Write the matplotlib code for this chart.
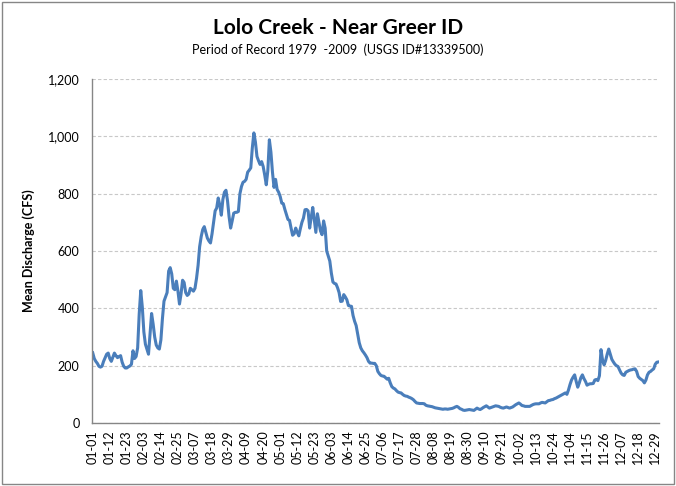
import numpy as np
import matplotlib
matplotlib.use('Agg')
import matplotlib.pyplot as plt
from matplotlib.patches import Rectangle
from matplotlib.ticker import FuncFormatter

# ------------------------------------------------------------------
# DATA  (mean daily discharge, CFS; leap year)
# ------------------------------------------------------------------
jan_mar = [245, 225, 215, 208, 198, 195, 198, 215, 228, 240,
           244, 225, 215, 230, 244, 235, 228, 232, 235, 212,
           198, 192, 192, 196, 199, 205, 252, 225, 232, 262,
           380, 462, 405, 318, 275, 258, 240, 310, 382, 345,
           300, 272, 262, 258, 290, 365, 425, 440, 455, 530,
           542, 520, 470, 465, 495, 460, 415, 450, 498, 490,
           455, 445, 450, 470, 465, 460, 470, 505, 550, 615,
           650, 675, 685, 665, 645, 635, 628, 660, 700, 740,
           750, 785, 760, 725, 780, 805, 812, 775, 720, 680,
           705]
apr_jun = [732, 735, 735, 738, 800, 825, 840, 843, 850, 875,
           882, 890, 960, 1012, 980, 930, 915, 902, 912, 895,
           865, 831, 880, 988, 945, 875, 822, 850, 815, 805,
           790, 767, 765, 745, 727, 710, 707, 680, 655, 660,
           680, 665, 653, 678, 700, 715, 744, 745, 740, 680,
           718, 752, 710, 665, 730, 700, 670, 657, 705, 680,
           600, 582, 565, 523, 492, 487, 485, 472, 455, 424,
           425, 448, 440, 430, 410, 408, 407, 375, 355, 340,
           310, 280, 262, 252, 245, 237, 228, 215, 209, 209,
           208]
jul_sep = [208, 200, 180, 172, 166, 164, 163, 158, 153, 156,
           140, 127, 122, 119, 113, 108, 106, 105, 100, 96,
           94, 93, 90, 88, 85, 81, 75, 70, 69, 68,
           68, 68, 67, 62, 60, 59, 58, 57, 55, 53,
           52, 51, 50, 49, 48, 49, 49, 48, 49, 50,
           51, 53, 56, 58, 55, 50, 48, 45, 44, 45,
           46, 47, 46, 45, 44, 48, 52, 49, 47, 50,
           54, 57, 60, 56, 52, 54, 56, 58, 60, 59,
           58, 55, 53, 52, 54, 56, 54, 52, 54, 56,
           60, 64]
oct_dec = [67, 70, 66, 61, 60, 58, 58, 58, 58, 61,
           64, 66, 67, 67, 67, 70, 72, 71, 70, 74,
           78, 79, 81, 82, 85, 87, 90, 93, 96, 99,
           102, 105, 100, 115, 134, 150, 160, 168, 145, 125,
           140, 158, 168, 155, 145, 132, 135, 137, 137, 138,
           150, 152, 148, 165, 256, 220, 203, 218, 240, 258,
           240, 222, 213, 205, 200, 197, 185, 174, 168, 166,
           177, 180, 183, 185, 186, 188, 189, 180, 162, 156,
           152, 148, 140, 150, 168, 177, 180, 185, 189, 205,
           212, 213]

flow = np.array(jan_mar + apr_jun + jul_sep + oct_dec, dtype=float)

days = np.arange('2008-01-01', '2009-01-01', dtype='datetime64[D]')
day_labels = [str(d)[5:] for d in days]

# ------------------------------------------------------------------
# PLOT
# ------------------------------------------------------------------
plt.rcParams['font.family'] = ['Lato', 'DejaVu Sans']

fig = plt.figure(figsize=(6.76, 4.86), dpi=100)
ax = fig.add_axes([0.136, 0.1296, 0.839, 0.7078])

x = np.arange(len(flow))
ax.plot(x, flow, color='#4a7ebb', linewidth=2.2, solid_joinstyle='round')

ax.set_xlim(-0.5, len(flow) - 0.5)
ax.set_ylim(0, 1200)
ax.set_yticks(np.arange(0, 1201, 200))
ax.yaxis.set_major_formatter(FuncFormatter(lambda v, p: f'{int(v):,}'))
ax.set_xticks(x[::11])
ax.set_xticklabels(day_labels[::11], rotation=90, fontsize=9)
ax.tick_params(axis='y', labelsize=9, length=0, pad=9)
ax.tick_params(axis='x', length=0, pad=5)

ax.grid(axis='y', color='#c8c8c8', linestyle=(0, (3, 2)), linewidth=0.8)
ax.set_axisbelow(True)
for s in ['top', 'right']:
    ax.spines[s].set_visible(False)
for s in ['left', 'bottom']:
    ax.spines[s].set_color('#868686')
    ax.spines[s].set_linewidth(1.0)

ax.set_ylabel('Mean Discharge (CFS)', fontsize=9, fontweight='bold', labelpad=9)

fig.text(0.5, 1 - 33.5 / 486, 'Lolo Creek - Near Greer ID', ha='center', va='baseline',
         fontsize=15, fontweight='bold')
fig.text(0.5, 1 - 54.5 / 486, 'Period of Record 1979  -2009  (USGS ID#13339500)', ha='center',
         va='baseline', fontsize=9)

# outer chart border
fig.patches.append(Rectangle((2 / 676, 2 / 486), 672 / 676, 482 / 486, transform=fig.transFigure,
                             fill=False, edgecolor='#868686', linewidth=1.0))

plt.savefig('out.png', dpi=100)
